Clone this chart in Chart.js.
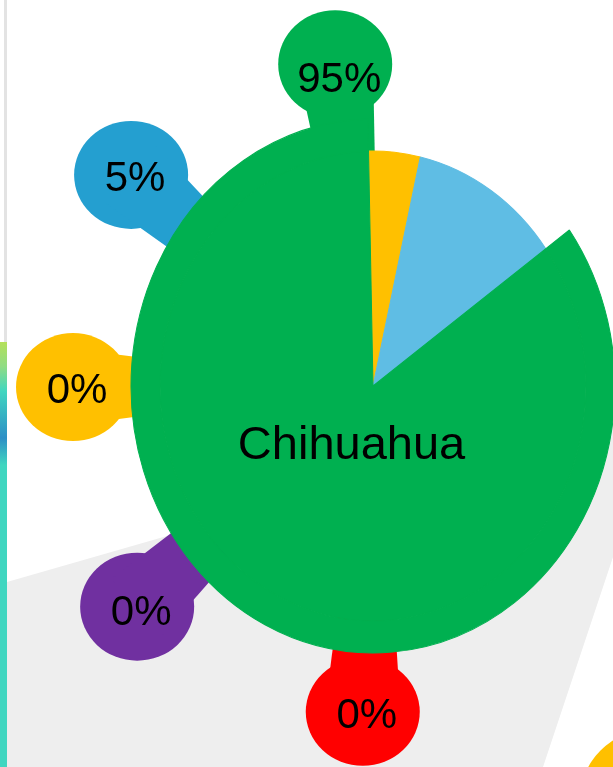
<!DOCTYPE html>
<html>
<head>
<meta charset="utf-8">
<script src="https://cdn.jsdelivr.net/npm/chart.js@4.4.1/dist/chart.umd.min.js"></script>
<style>
  html, body { margin: 0; padding: 0; background: #fff; overflow: hidden; }
  #wrap { position: relative; width: 613px; height: 767px; }
</style>
</head>
<body>
<div id="wrap"><canvas id="dogChart"></canvas></div>
<script>
const categories = ["Other", "Mixed", "Chihuahua"];
const sliceValues = [3.9, 11.5, 84.6];
const sliceColors = ["#ffc000", "#5fbde4", "#00b050"];

const calloutLabels = ["95%", "5%", "0%", "0%", "0%"];
const calloutColors = ["#00b050", "#249fd0", "#ffc000", "#7030a0", "#ff0000"];

// bubble placement round the pie: degrees clockwise from 12 o'clock, px from centre
const calloutAngles = [-6.7, -48.9, -90.2, -133.1, 181.8];
const calloutDist = [324, 321, 300, 323, 326];
const textNudge = [13, 1, 1, 3, 1];

// the picture is stretched a little taller than wide
const STRETCH_Y = 1.103;
const FONT = "'Liberation Sans', Arial, sans-serif";

const backdrop = {
  id: "backdrop",
  beforeDraw(chart) {
    const ctx = chart.ctx;
    ctx.save();
    // grey floor
    ctx.fillStyle = "#eeeeee";
    ctx.beginPath();
    ctx.moveTo(7, 582);
    ctx.lineTo(668, 392);
    ctx.lineTo(543, 767);
    ctx.lineTo(7, 767);
    ctx.closePath();
    ctx.fill();
    // yellow circle peeking in bottom right
    ctx.fillStyle = "#ffc000";
    ctx.beginPath();
    ctx.arc(650, 800, 70, 0, Math.PI * 2);
    ctx.fill();
    // left border strip
    ctx.fillStyle = "#e3e3e3";
    ctx.fillRect(4, 0, 3, 345);
    const g = ctx.createLinearGradient(0, 342, 0, 465);
    g.addColorStop(0, "#b4e05a");
    g.addColorStop(0.2, "#8fdc84");
    g.addColorStop(0.4, "#40d6c0");
    g.addColorStop(0.78, "#2d8fc6");
    g.addColorStop(1, "#40d6c0");
    ctx.fillStyle = g;
    ctx.fillRect(0, 342, 7, 123);
    ctx.fillStyle = "#40d6c0";
    ctx.fillRect(0, 465, 7, 302);
    ctx.restore();
  }
};

const callouts = {
  id: "callouts",
  beforeDatasetsDraw(chart) {
    const arc = chart.getDatasetMeta(1).data[0];
    const cx = arc.x, cy = arc.y;
    const ctx = chart.ctx;
    ctx.save();
    calloutLabels.forEach((label, i) => {
      const a = calloutAngles[i] * Math.PI / 180;
      const ux = Math.sin(a), uy = -Math.cos(a);
      const bx = cx + ux * calloutDist[i];
      const by = cy + uy * calloutDist[i];
      const nx = -uy, ny = ux;
      const ex = cx + ux * 222, ey = cy + uy * 222;
      ctx.fillStyle = calloutColors[i];
      ctx.beginPath();
      ctx.ellipse(bx, by, 57, 54, 0, 0, Math.PI * 2);
      ctx.fill();
      ctx.beginPath();
      ctx.moveTo(bx + nx * 38, by + ny * 38);
      ctx.lineTo(ex + nx * 28, ey + ny * 28);
      ctx.lineTo(ex - nx * 28, ey - ny * 28);
      ctx.lineTo(bx - nx * 38, by - ny * 38);
      ctx.closePath();
      ctx.fill();
      ctx.fillStyle = "#000";
      ctx.font = "42px " + FONT;
      ctx.textAlign = "center";
      ctx.textBaseline = "alphabetic";
      ctx.fillText(label, bx + 4, by + 15 + textNudge[i]);
    });
    ctx.restore();

    // stretch the pie vertically round its own centre
    ctx.save();
    ctx.translate(cx, cy);
    ctx.scale(1, STRETCH_Y);
    ctx.translate(-cx, -cy);
  },
  afterDatasetsDraw(chart) {
    chart.ctx.restore();
  }
};

const sliceName = {
  id: "sliceName",
  afterDatasetsDraw(chart) {
    const arc = chart.getDatasetMeta(1).data[2];
    const mid = (arc.startAngle + arc.endAngle) / 2;
    const x = arc.x + Math.cos(mid) * 57;
    const y = arc.y + Math.sin(mid) * 57 * STRETCH_Y;
    const ctx = chart.ctx;
    ctx.save();
    ctx.fillStyle = "#000";
    ctx.font = "47px " + FONT;
    ctx.textAlign = "center";
    ctx.textBaseline = "alphabetic";
    ctx.fillText(categories[2], x + 4, y + 17);
    ctx.restore();
  }
};

new Chart(document.getElementById("dogChart"), {
  type: "pie",
  data: {
    labels: categories,
    datasets: [
      {
        // outer band: only the Chihuahua slice reaches out this far
        data: sliceValues,
        backgroundColor: ["rgba(0,0,0,0)", "rgba(0,0,0,0)", sliceColors[2]],
        borderColor: ["rgba(0,0,0,0)", "rgba(0,0,0,0)", sliceColors[2]],
        borderWidth: [0, 0, 1],
        weight: 29,
      },
      {
        data: sliceValues,
        backgroundColor: sliceColors,
        borderColor: sliceColors,
        borderWidth: 1,
        weight: 213,
      },
    ],
  },
  options: {
    responsive: true,
    maintainAspectRatio: false,
    animation: false,
    devicePixelRatio: 1,
    rotation: -1.2,
    radius: 242,
    layout: { padding: { left: 133, right: 0, top: 5, bottom: 0 } },
    plugins: {
      legend: { display: false },
      tooltip: { enabled: false },
    },
  },
  plugins: [backdrop, callouts, sliceName],
});
</script>
</body>
</html>
